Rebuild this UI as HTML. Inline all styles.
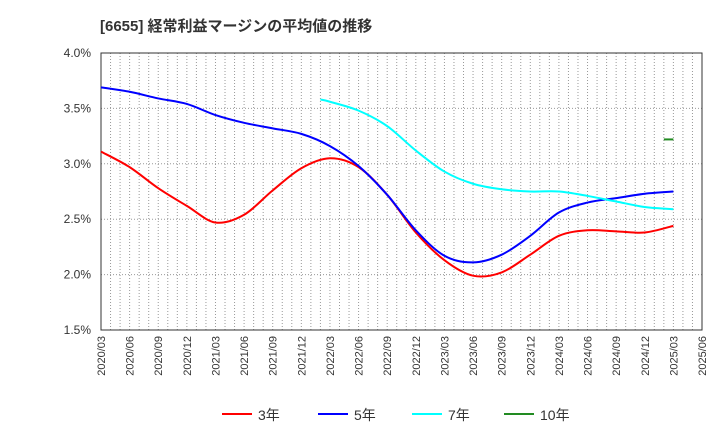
<!DOCTYPE html>
<html><head><meta charset="utf-8"><style>
body{margin:0;background:#fff;}
svg text{font-family:"Liberation Sans","Noto Sans CJK JP",sans-serif;}
</style></head><body>
<svg id="c" width="720" height="440" xmlns="http://www.w3.org/2000/svg">
<text x="100" y="31" font-size="15" font-weight="bold" fill="#333">[6655]  経常利益マージンの平均値の推移</text>
<g id="grid"></g><g id="axes"></g><g id="series"></g><g id="legend"></g>
</svg>
<script>
const tickLabels=["2020/03","2020/06","2020/09","2020/12","2021/03","2021/06","2021/09","2021/12","2022/03","2022/06","2022/09","2022/12","2023/03","2023/06","2023/09","2023/12","2024/03","2024/06","2024/09","2024/12","2025/03","2025/06"];
const yTicks=[1.5,2.0,2.5,3.0,3.5,4.0];
const quarterMonths=[0,3,6,9,12,15,18,21,24,27,30,33,36,39,42,45,48,51,54,57,60];
const red3=[3.11,2.97,2.78,2.62,2.47,2.54,2.76,2.96,3.05,2.97,2.72,2.38,2.13,1.99,2.02,2.18,2.35,2.40,2.39,2.38,2.44];
const blue5=[3.69,3.65,3.59,3.54,3.44,3.37,3.32,3.27,3.16,2.98,2.72,2.40,2.17,2.11,2.18,2.35,2.56,2.65,2.69,2.73,2.75];
const cyan7=[3.58,3.56,3.48,3.34,3.12,2.93,2.82,2.77,2.75,2.75,2.71,2.66,2.61,2.59];
const cyanMonths=[23,24,27,30,33,36,39,42,45,48,51,54,57,60];
const green10=[3.22,3.22];
const greenMonths=[59,60];
const X0=101,X1=702,Y0=330,Y1=53,NM=63;
const x=m=>X0+(X1-X0)*m/NM;
const y=v=>Y0-(v-1.5)/2.5*(Y0-Y1);
const NS="http://www.w3.org/2000/svg";
function mk(t,a,p){const e=document.createElementNS(NS,t);for(const k in a)e.setAttribute(k,a[k]);p.appendChild(e);return e;}
const g=document.getElementById('grid'),ax=document.getElementById('axes'),s=document.getElementById('series'),lg=document.getElementById('legend');
for(let m=1;m<NM;m++){const l=mk('line',{x1:x(m),x2:x(m),y1:Y1,y2:Y0,stroke:'#999','stroke-dasharray':'1,2','stroke-width':1},g);

}
yTicks.forEach(v=>{const l=mk('line',{x1:X0,x2:X1,y1:y(v),y2:y(v),stroke:'#999','stroke-dasharray':'1,2'},g);


const t=mk('text',{x:91,y:y(v)+4,'font-size':12,fill:'#333','text-anchor':'end'},ax);t.textContent=v.toFixed(1)+'%';

});
const fr=mk('rect',{x:X0,y:Y1,width:X1-X0,height:Y0-Y1,fill:'none',stroke:'#333'},ax);


tickLabels.forEach((lab,i)=>{const xx=x(i*3);const t=mk('text',{x:0,y:0,'font-size':11,fill:'#333','text-anchor':'end',transform:`translate(${xx+4},${Y0+6}) rotate(-90)`},ax);t.textContent=lab;

});
function smooth(pts){let d=`M${pts[0][0]},${pts[0][1]}`;for(let i=0;i<pts.length-1;i++){const p0=pts[i-1]||pts[i],p1=pts[i],p2=pts[i+1],p3=pts[i+2]||p2;
d+=` C${p1[0]+(p2[0]-p0[0])/6},${p1[1]+(p2[1]-p0[1])/6} ${p2[0]-(p3[0]-p1[0])/6},${p2[1]-(p3[1]-p1[1])/6} ${p2[0]},${p2[1]}`;}return d;}
function line(vals,months,col,name){const pts=vals.map((v,i)=>[x(months[i]),y(v)]);
const p=mk('path',{d:smooth(pts),fill:'none',stroke:col,'stroke-width':2},s);

}
line(red3,quarterMonths,'#ff0000','series-3y');
line(blue5,quarterMonths,'#0000ff','series-5y');
line(cyan7,cyanMonths,'#00ffff','series-7y');
line(green10,greenMonths,'#228b22','series-10y');
[["3年","#ff0000",222],["5年","#0000ff",318],["7年","#00ffff",412],["10年","#228b22",504]].forEach(([n,c,lx])=>{
const l=mk('line',{x1:lx,x2:lx+30,y1:414,y2:414,stroke:c,'stroke-width':2},lg);


const t=mk('text',{x:lx+36,y:420,'font-size':14,fill:'#333'},lg);t.textContent=n;

});
</script>
</body></html>
